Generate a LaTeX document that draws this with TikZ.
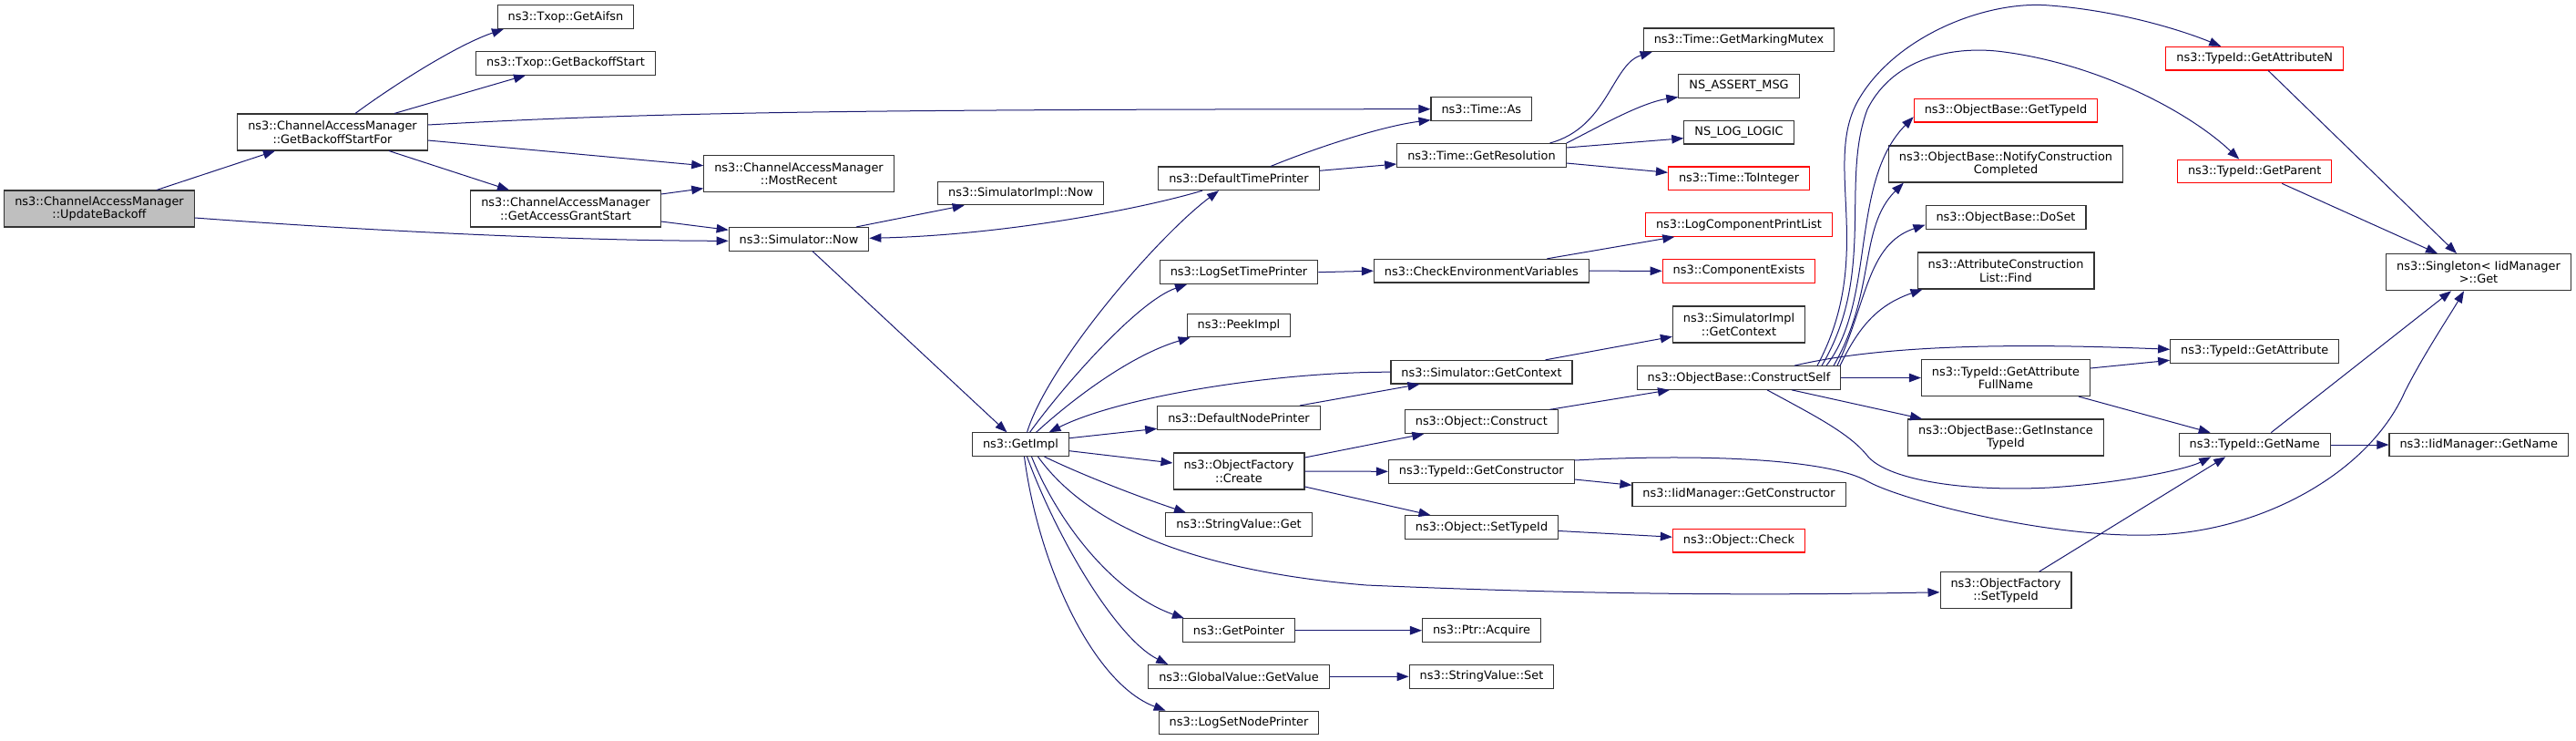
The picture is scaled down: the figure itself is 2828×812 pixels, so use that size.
\documentclass[tikz,border=0pt]{standalone}
\usepackage{fontspec}
\setmainfont{DejaVu Sans}
\usepackage{tikz}
\usetikzlibrary{calc,arrows.meta}
\definecolor{edgeblue}{RGB}{25,25,112}
\definecolor{rootgray}{RGB}{191,191,191}
\newcommand\fnfont{\fontsize{12.9pt}{14.5pt}\selectfont}
\tikzset{
  fn/.style={draw=black!80, line width=1.1pt, fill=white, inner xsep=11.5pt, inner ysep=2pt,
    minimum height=25.6pt, align=center, font=\fnfont},
  fntwo/.style={fn, minimum height=40pt},
  trunc/.style={fn, draw=red},
  root/.style={fntwo, fill=rootgray},
  call/.style={draw=edgeblue, line width=1pt, -{Triangle[length=13pt,width=9.5pt]}}
}

\begin{document}
\begin{tikzpicture}[x=1pt,y=-1pt]
\useasboundingbox (0,0) rectangle (2828,812);
% first columns
\node[root] (ub) at (109,229) {ns3::ChannelAccessManager\\::UpdateBackoff};
\node[fntwo] (gbsf) at (365,145) {ns3::ChannelAccessManager\\::GetBackoffStartFor};
\node[fn] (aifsn) at (621,18.5) {ns3::Txop::GetAifsn};
\node[fn] (gbs) at (621,69.3) {ns3::Txop::GetBackoffStart};
\node[fntwo] (gags) at (621,229) {ns3::ChannelAccessManager\\::GetAccessGrantStart};
\node[fntwo] (mr) at (877,190.7) {ns3::ChannelAccessManager\\::MostRecent};
\node[fn] (snow) at (877,262.3) {ns3::Simulator::Now};
\node[fn] (sinow) at (1120.7,212) {ns3::SimulatorImpl::Now};
\node[fn] (gimpl) at (1120.5,487.7) {ns3::GetImpl};
% printers and friends
\node[fn] (dtp) at (1360,195.8) {ns3::DefaultTimePrinter};
\node[fn] (lstp) at (1360,298.7) {ns3::LogSetTimePrinter};
\node[fn] (peek) at (1360,357) {ns3::PeekImpl};
\node[fn] (dnp) at (1360,458.3) {ns3::DefaultNodePrinter};
\node[fntwo] (ofc) at (1360,517) {ns3::ObjectFactory\\::Create};
\node[fn] (svget) at (1360,575.7) {ns3::StringValue::Get};
\node[fn] (gptr) at (1360,691.7) {ns3::GetPointer};
\node[fn] (gvgv) at (1360,742.3) {ns3::GlobalValue::GetValue};
\node[fn] (lsnp) at (1360,793) {ns3::LogSetNodePrinter};
\node[fn] (tas) at (1626.3,119.7) {ns3::Time::As};
\node[fn] (tres) at (1626.5,170.3) {ns3::Time::GetResolution};
\node[fn] (cev) at (1626.3,297.2) {ns3::CheckEnvironmentVariables};
\node[fn] (sgc) at (1626.5,408.2) {ns3::Simulator::GetContext};
\node[fn] (ocons) at (1626.3,462.7) {ns3::Object::Construct};
\node[fn] (tgc) at (1626.3,517.3) {ns3::TypeId::GetConstructor};
\node[fn] (osti) at (1626.5,578.5) {ns3::Object::SetTypeId};
\node[fn] (pacq) at (1626.5,691.7) {ns3::Ptr::Acquire};
\node[fn] (svset) at (1626.5,742.3) {ns3::StringValue::Set};
% third level
\node[fn] (mutex) at (1909,43.8) {ns3::Time::GetMarkingMutex};
\node[fn] (assert) at (1909,94.5) {NS\_ASSERT\_MSG};
\node[fn] (logic) at (1909,145.2) {NS\_LOG\_LOGIC};
\node[trunc] (toint) at (1909,195.8) {ns3::Time::ToInteger};
\node[trunc] (lcpl) at (1909,246.5) {ns3::LogComponentPrintList};
\node[trunc] (cexists) at (1909,297.3) {ns3::ComponentExists};
\node[fntwo] (sigc) at (1909,356) {ns3::SimulatorImpl\\::GetContext};
\node[fn] (cself) at (1909,414.5) {ns3::ObjectBase::ConstructSelf};
\node[fn] (imgc) at (1909,542.3) {ns3::IidManager::GetConstructor};
\node[trunc] (ocheck) at (1909,593.2) {ns3::Object::Check};
\node[trunc] (gtid) at (2202,121.2) {ns3::ObjectBase::GetTypeId};
\node[fntwo] (ncc) at (2202,180) {ns3::ObjectBase::NotifyConstruction\\Completed};
\node[fn] (doset) at (2202,238.7) {ns3::ObjectBase::DoSet};
\node[fntwo] (aclf) at (2202,297) {ns3::AttributeConstruction\\List::Find};
\node[fntwo] (gafn) at (2202,414.5) {ns3::TypeId::GetAttribute\\FullName};
\node[fntwo] (gitid) at (2202,480) {ns3::ObjectBase::GetInstance\\TypeId};
\node[fntwo] (ofsti) at (2202,647.8) {ns3::ObjectFactory\\::SetTypeId};
\node[trunc] (gan) at (2475.2,64.2) {ns3::TypeId::GetAttributeN};
\node[trunc] (gpar) at (2475.2,188) {ns3::TypeId::GetParent};
\node[fn] (gattr) at (2475.2,385.3) {ns3::TypeId::GetAttribute};
\node[fn] (tgn) at (2475.2,488) {ns3::TypeId::GetName};
\node[fntwo] (sget) at (2721,298.7) {ns3::Singleton< IidManager\\>::Get};
\node[fn] (imgn) at (2721.2,488) {ns3::IidManager::GetName};

% calls
\draw[call] ($(ub.north)+(63,0)$) -- ($(gbsf.south)+(-63,0)$);
\draw[call] ($(ub.east)+(0,10)$) .. controls (430,255) and (640,264) .. ($(snow.west)+(0,2)$);
\draw[call] ($(gbsf.north)+(25,0)$) .. controls (430,95) and (500,50) .. ($(aifsn.south)+(-68,0)$);
\draw[call] ($(gbsf.north)+(68,0)$) -- ($(gbs.south)+(-44,0)$);
\draw[call] ($(gbsf.east)+(0,-8)$) .. controls (700,124) and (900,120) .. (tas.west);
\draw[call] ($(gbsf.east)+(0,9)$) -- ($(mr.west)+(0,-9)$);
\draw[call] ($(gbsf.south)+(62,0)$) -- ($(gags.north)+(-62,0)$);
\draw[call] ($(gags.east)+(0,-16)$) -- ($(mr.west)+(0,16)$);
\draw[call] ($(gags.east)+(0,14)$) -- ($(snow.west)+(0,-10)$);
\draw[call] ($(snow.north)+(63,0)$) -- ($(sinow.south)+(-62,0)$);
\draw[call] ($(snow.south)+(15,0)$) -- ($(gimpl.north)+(-15,0)$);
\draw[call] ($(dtp.south)+(-40,0)$) .. controls (1250,230) and (1100,258) .. ($(snow.east)+(0,-1)$);
\draw[call] ($(gimpl.north)+(7,0)$) .. controls (1150,400) and (1270,260) .. ($(dtp.south)+(-22,0)$);
\draw[call] ($(gimpl.north)+(10,0)$) .. controls (1170,420) and (1250,330) .. ($(lstp.south)+(-57,0)$);
\draw[call] ($(gimpl.north)+(17,0)$) .. controls (1175,440) and (1240,390) .. ($(peek.south west)+(4,0)$);
\draw[call] (sgc.west) .. controls (1400,408) and (1230,435) .. ($(gimpl.north)+(31,0)$);
\draw[call] ($(gimpl.east)+(0,-7)$) -- ($(dnp.west)+(0,12)$);
\draw[call] ($(dnp.north)+(67,0)$) -- ($(sgc.south)+(-68,0)$);
\draw[call] ($(gimpl.east)+(0,7)$) -- ($(ofc.west)+(0,-9)$);
\draw[call] ($(ofc.east)+(0,-15)$) -- ($(ocons.south)+(-63,0)$);
\draw[call] (ofc.east) -- (tgc.west);
\draw[call] ($(ofc.east)+(0,17)$) -- ($(osti.north)+(-56,0)$);
\draw[call] ($(gimpl.south)+(26,0)$) .. controls (1190,522) and (1250,545) .. ($(svget.north)+(-58,0)$);
\draw[call] ($(gimpl.south)+(19,0)$) .. controls (1200,585) and (1330,628) .. (1500,642) .. controls (1800,655) and (2000,652) .. ($(ofsti.west)+(0,2)$);
\draw[call] ($(gimpl.south)+(12,0)$) .. controls (1160,570) and (1220,650) .. ($(gptr.north west)+(2,0)$);
\draw[call] ($(gimpl.south)+(7,0)$) .. controls (1160,590) and (1225,700) .. ($(gvgv.north west)+(22,0)$);
\draw[call] ($(gimpl.south)+(4,0)$) .. controls (1140,620) and (1200,750) .. ($(lsnp.north west)+(8,0)$);
\draw[call] (gptr.east) -- (pacq.west);
\draw[call] (gvgv.east) -- (svset.west);
\draw[call] ($(dtp.north)+(35,0)$) .. controls (1450,160) and (1520,138) .. ($(tas.west)+(0,12)$);
\draw[call] ($(dtp.east)+(0,-8.5)$) -- ($(tres.west)+(0,9.7)$);
\draw[call] ($(tres.north)+(75,0)$) .. controls (1765,140) and (1770,70) .. ($(mutex.south west)+(10,0)$);
\draw[call] (tres.north east) .. controls (1750,142) and (1800,113) .. ($(assert.west)+(0,12)$);
\draw[call] ($(tres.east)+(0,-8.3)$) -- ($(logic.west)+(0,6.5)$);
\draw[call] ($(tres.east)+(0,8.7)$) -- ($(toint.west)+(0,-6.5)$);
\draw[call] (lstp.east) -- (cev.west);
\draw[call] ($(cev.north)+(72,0)$) -- ($(lcpl.south)+(-70.7,0)$);
\draw[call] (cev.east) -- (cexists.west);
\draw[call] ($(sgc.north)+(70,0)$) -- ($(sigc.west)+(0,13.3)$);
\draw[call] ($(ocons.north)+(75,0)$) -- ($(cself.south)+(-76,0)$);
\draw[call] ($(tgc.east)+(0,8.7)$) -- ($(imgc.west)+(0,-10)$);
\draw[call] ($(tgc.east)+(0,-12.3)$) .. controls (1880,497) and (2010,505) .. (2050,528) .. controls (2090,550) and (2250,590) .. (2360,587) .. controls (2480,585) and (2600,520) .. (2640,430) .. controls (2660,390) and (2690,345) .. ($(sget.south)+(-16,0)$);
\draw[call] ($(osti.east)+(0,4)$) -- ($(ocheck.west)+(0,-4)$);
% ConstructSelf fan
\draw[call] (cself.east) -- (gafn.west);
\draw[call] ($(cself.south)+(58,0)$) -- ($(gitid.north)+(-92,0)$);
\draw[call] ($(cself.south)+(31,0)$) .. controls (1990,455) and (2030,475) .. (2050,500) .. controls (2070,525) and (2150,540) .. (2250,535) .. controls (2330,530) and (2400,515) .. ($(tgn.south)+(-48,0)$);
\draw[call] ($(cself.north)+(61,0)$) .. controls (2080,375) and (2250,378) .. ($(gattr.west)+(0,-2)$);
\draw[call] ($(cself.north)+(86,0)$) .. controls (2060,280) and (2000,180) .. (2040,110) .. controls (2080,40) and (2180,0) .. (2250,6) .. controls (2330,12) and (2400,35) .. ($(gan.north)+(-37,0)$);
\draw[call] ($(cself.north)+(91,0)$) .. controls (2060,300) and (2020,200) .. (2050,120) .. controls (2080,60) and (2150,50) .. (2200,57) .. controls (2300,70) and (2400,120) .. ($(gpar.north)+(-17,0)$);
\draw[call] ($(cself.north)+(96,0)$) .. controls (2060,330) and (2030,200) .. ($(gtid.west)+(0,7)$);
\draw[call] ($(cself.north)+(104,0)$) .. controls (2060,320) and (2040,250) .. ($(ncc.south west)+(17,0)$);
\draw[call] ($(cself.north)+(108,0)$) .. controls (2050,330) and (2050,268) .. ($(doset.west)+(0,8)$);
\draw[call] ($(cself.north)+(111,0)$) .. controls (2040,360) and (2060,335) .. ($(aclf.south west)+(6,0)$);
\draw[call] ($(gafn.east)+(0,-10.5)$) -- ($(gattr.west)+(0,10)$);
\draw[call] ($(gafn.south)+(80,0)$) -- ($(tgn.north)+(-48.5,0)$);
\draw[call] ($(ofsti.north)+(36.5,0)$) -- ($(tgn.south)+(-32,0)$);
\draw[call] ($(gan.south)+(15,0)$) -- ($(sget.north)+(-24,0)$);
\draw[call] ($(gpar.south)+(30,0)$) -- ($(sget.north)+(-45,0)$);
\draw[call] ($(tgn.north)+(18,0)$) -- ($(sget.south)+(-30,0)$);
\draw[call] (tgn.east) -- (imgn.west);
\end{tikzpicture}
\end{document}
